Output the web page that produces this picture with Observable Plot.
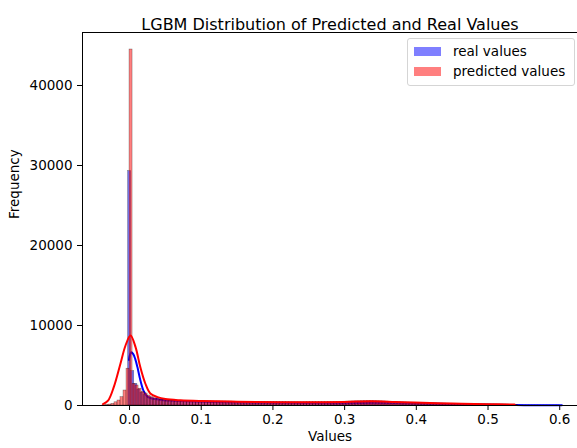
<!DOCTYPE html>
<html>
<head>
<meta charset="utf-8">
<script src="https://cdn.jsdelivr.net/npm/d3@7"></script>
<script src="https://cdn.jsdelivr.net/npm/@observablehq/plot@0.6"></script>
<style>
  body { margin: 0; background: #fff; }
  #wrap { position: relative; width: 577px; height: 448px; font-family: "DejaVu Sans", sans-serif; overflow: hidden; }
  .legend { position: absolute; left: 407px; top: 38px; width: 168px; height: 48px; border: 1px solid #d5d5d5; border-radius: 3px; background: rgba(255,255,255,0.85); box-sizing: border-box; }
  .row { position: absolute; left: 6px; height: 16px; display: flex; align-items: center; font-size: 13.5px; color: #000; white-space: nowrap; }
  .sw { width: 27px; height: 9px; margin-right: 12px; }
</style>
</head>
<body>
<div id="wrap"></div>
<script>
// ---------- data ----------
const title = "LGBM Distribution of Predicted and Real Values";
const xLabel = "Values";
const yLabel = "Frequency";
const seriesNames = ["real values", "predicted values"];
const xTicks = [0, 0.1, 0.2, 0.3, 0.4, 0.5, 0.6];
const yTicks = [0, 10000, 20000, 30000, 40000];

// real values histogram: first bin edge, bin width, counts
const realBinStart = -0.002;
const realBinWidth = 0.0043;
const realCounts = [
  29300, 4300, 2700, 2000, 1600, 1300, 1100, 950, 850, 760, 700,
  650, 615, 580, 565, 540, 525, 505, 500, 485, 478,
  465, 458, 445, 442, 430, 428, 415, 412, 400, 396,
  390, 386, 380, 377, 370, 366, 360, 357, 350, 347,
  340, 339, 335, 333, 330, 329, 325, 323, 320, 318,
  315, 313, 310, 309, 305, 303, 300, 299, 296, 295,
  293, 292, 290, 291, 290, 293, 295, 299, 302, 307,
  310, 316, 320, 326, 328, 331, 332, 333, 330, 329,
  325, 321, 315, 309, 300, 293, 284, 276, 267, 259,
  250, 243, 234, 227, 218, 211, 202, 195, 186, 179,
  170, 163, 155, 149, 140, 134, 126, 121, 113, 107,
  100, 95, 88, 83, 77, 73, 67, 63, 58, 55,
  50, 47, 43, 41, 37, 35, 31, 29, 26, 25,
  22, 21, 18, 17, 15, 14, 13, 12, 11
];

// predicted values histogram
const predBinStart = -0.0378;
const predBinWidth = 0.0042;
const predCounts = [
  30, 60, 120, 200, 400, 625, 1040, 1875, 4600, 44500,
  2700, 2500, 2100, 1700, 1500, 1250, 1040, 900, 800, 720, 670,
  640, 612, 598, 590, 577, 580, 562, 566, 551, 545,
  540, 532, 524, 521, 510, 516, 500, 506, 494, 491,
  485, 481, 474, 471, 469, 461, 455, 456, 449, 446,
  440, 441, 434, 431, 424, 426, 419, 416, 414, 411,
  410, 406, 404, 401, 399, 402, 405, 407, 410, 412,
  415, 421, 424, 431, 435, 442, 450, 457, 466, 476,
  487, 497, 506, 518, 527, 534, 545, 560, 552, 541,
  530, 517, 501, 482, 461, 446, 427, 411, 396, 381,
  366, 351, 341, 326, 316, 301, 292, 281, 271, 262,
  251, 242, 231, 226, 216, 211, 201, 196, 191, 181,
  176, 171, 166, 161, 156, 151, 146, 141, 136, 131,
  125, 120, 115, 110, 100, 90, 70
];

// KDE curves (count scale)
const realKdeX = [-0.0008, 0.0005, 0.0025, 0.005, 0.008, 0.011, 0.015, 0.02, 0.025, 0.03, 0.035, 0.045, 0.055, 0.07, 0.1, 0.15, 0.2, 0.25, 0.3, 0.34, 0.38, 0.42, 0.46, 0.5, 0.55, 0.603];
const realKdeY = [5700, 6300, 6650, 6450, 5800, 4800, 3200, 1750, 1100, 900, 800, 700, 620, 550, 470, 380, 330, 300, 290, 330, 290, 220, 150, 90, 45, 20];
const predKdeX = [-0.037, -0.03, -0.022, -0.0126, -0.0056, 0.0014, 0.0084, 0.015, 0.022, 0.029, 0.039, 0.05, 0.071, 0.1, 0.15, 0.21, 0.25, 0.3, 0.337, 0.37, 0.397, 0.45, 0.5, 0.537];
const predKdeY = [180, 600, 2290, 5250, 7500, 8750, 7300, 4800, 2750, 1500, 1040, 800, 650, 560, 480, 420, 400, 450, 540, 450, 360, 250, 170, 120];

// ---------- build tables ----------
const realRows = realCounts.map((c, i) => ({x1: realBinStart + i * realBinWidth, x2: realBinStart + (i + 1) * realBinWidth, count: c}));
const predRows = predCounts.map((c, i) => ({x1: predBinStart + i * predBinWidth, x2: predBinStart + (i + 1) * predBinWidth, count: c}));
const realKde = realKdeX.map((x, i) => ({x, y: realKdeY[i]}));
const predKde = predKdeX.map((x, i) => ({x, y: predKdeY[i]}));

const chart = Plot.plot({
  width: 577,
  height: 448,
  marginLeft: 82,
  marginRight: 0,
  marginTop: 32,
  marginBottom: 43,
  style: {fontFamily: "DejaVu Sans, sans-serif", fontSize: "13.5px", color: "#000", background: "#fff", overflow: "visible"},
  x: {domain: [-0.0656, 0.6248], ticks: xTicks, tickFormat: ".1f", tickSize: 5, tickPadding: 4, label: null},
  y: {domain: [0, 46625], ticks: yTicks, tickFormat: "d", tickSize: 5, tickPadding: 5, label: null},
  marks: [
    Plot.rectY(realRows, {x1: "x1", x2: "x2", y1: 0, y2: "count", fill: "blue", fillOpacity: 0.5, stroke: "black", strokeOpacity: 0.5, strokeWidth: 0.5}),
    Plot.line(realKde, {x: "x", y: "y", stroke: "blue", strokeWidth: 2, curve: "catmull-rom"}),
    Plot.rectY(predRows, {x1: "x1", x2: "x2", y1: 0, y2: "count", fill: "red", fillOpacity: 0.5, stroke: "black", strokeOpacity: 0.5, strokeWidth: 0.5}),
    Plot.line(predKde, {x: "x", y: "y", stroke: "red", strokeWidth: 2, curve: "catmull-rom"}),
    Plot.frame({stroke: "black", strokeWidth: 1}),
    Plot.text([title], {frameAnchor: "top", dy: -14, fontSize: 16}),
    Plot.text([xLabel], {frameAnchor: "bottom", dy: 35}),
    Plot.text([yLabel], {frameAnchor: "left", dx: -68, rotate: -90})
  ]
});

const wrap = document.getElementById("wrap");
wrap.appendChild(chart);

// legend
const legend = document.createElement("div");
legend.className = "legend";
const colors = ["rgba(0,0,255,0.5)", "rgba(255,0,0,0.5)"];
seriesNames.forEach((name, i) => {
  const row = document.createElement("div");
  row.className = "row";
  row.style.top = (4 + i * 20) + "px";
  const sw = document.createElement("div");
  sw.className = "sw";
  sw.style.background = colors[i];
  const t = document.createElement("span");
  t.textContent = name;
  row.appendChild(sw);
  row.appendChild(t);
  legend.appendChild(row);
});
wrap.appendChild(legend);
</script>
</body>
</html>
